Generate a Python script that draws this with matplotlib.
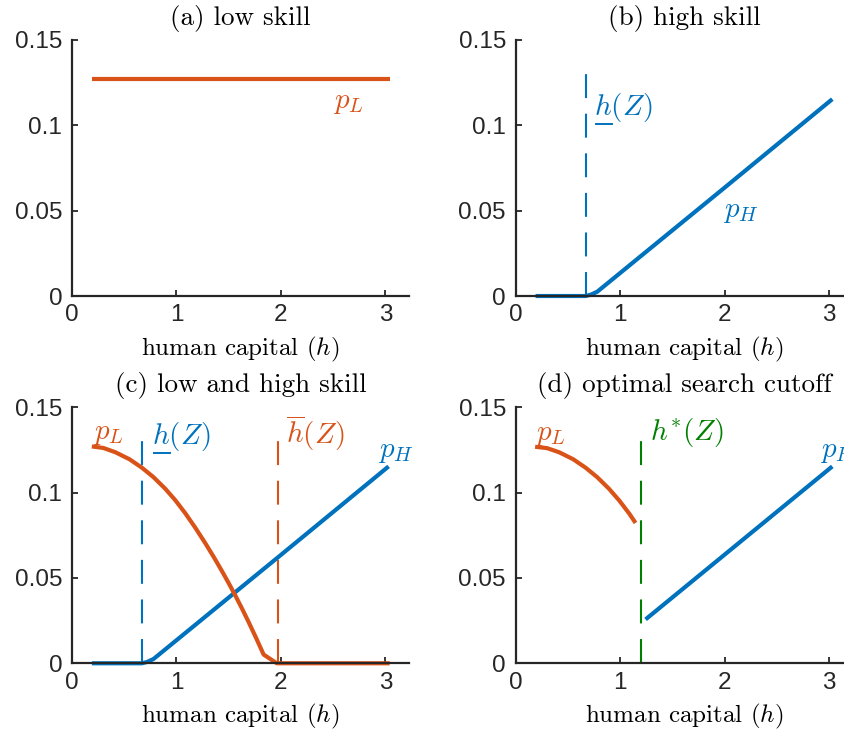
import matplotlib
matplotlib.use("Agg")
import matplotlib.pyplot as plt
from matplotlib.lines import Line2D

# values
h_flat = [0.19, 3.04]
pL_flat = [0.127, 0.127]

h_high = [0.19, 0.67, 0.72, 0.78, 1.0, 2.0, 3.03]
pH_high = [0.0, 0.0, 0.0008, 0.0025, 0.0135, 0.0635, 0.1153]

h_low = [0.19, 0.30, 0.415, 0.55, 0.67, 0.78, 0.893, 0.99, 1.085, 1.18, 1.276,
         1.36, 1.435, 1.50, 1.563, 1.63, 1.69, 1.76, 1.834, 1.96, 3.04]
pL_low = [0.127, 0.1261, 0.1236, 0.1195, 0.1145, 0.109, 0.1022, 0.0954, 0.0878,
          0.0794, 0.0703, 0.0619, 0.054, 0.0469, 0.0397, 0.0317, 0.0242, 0.0151,
          0.0051, 0.0, 0.0]

h_low_d = [0.186, 0.30, 0.415, 0.55, 0.67, 0.78, 0.893, 0.99, 1.085, 1.147]
pL_low_d = [0.1268, 0.1260, 0.1236, 0.1195, 0.1145, 0.109, 0.1022, 0.0954,
            0.0878, 0.0822]
h_high_d = [1.243, 3.03]
pH_high_d = [0.0257, 0.1153]

cut_low = 0.67
cut_high = 1.97
cut_star = 1.195
cut_top = 0.1335

titles = ['(a) low skill', '(b) high skill', '(c) low and high skill',
          '(d) optimal search cutoff']

blue = '#0072BD'
orange = '#D95319'
green = '#008000'
dark = '#262626'

plt.rcParams['mathtext.fontset'] = 'cm'

tick_fs = 17.5
lab_fs = 18
title_fs = 19.5
txt_fs = 21

fig = plt.figure(figsize=(8.45, 7.36), dpi=100)
w, hgt = 0.3994, 0.3480
ax_a = fig.add_axes([0.0852, 0.5978, w, hgt])
ax_b = fig.add_axes([0.6103, 0.5978, w, hgt])
ax_c = fig.add_axes([0.0852, 0.0988, w, hgt])
ax_d = fig.add_axes([0.6103, 0.0988, w, hgt])
axes = [ax_a, ax_b, ax_c, ax_d]

for ax, t in zip(axes, titles):
    ax.set_xlim(0, 3.23)
    ax.set_ylim(0, 0.15)
    ax.set_xticks([0, 1, 2, 3])
    ax.set_yticks([0, 0.05, 0.1, 0.15])
    ax.set_yticklabels(['0', '0.05', '0.1', '0.15'])
    for s in ['top', 'right']:
        ax.spines[s].set_visible(False)
    for s in ['left', 'bottom']:
        ax.spines[s].set_color(dark)
        ax.spines[s].set_linewidth(1.6)
    ax.tick_params(direction='in', length=4, width=1.3, color=dark,
                   labelcolor=dark, labelsize=tick_fs)
    ax.tick_params(axis='x', pad=6)
    ax.tick_params(axis='y', pad=7)
    for lb in ax.get_xticklabels() + ax.get_yticklabels():
        lb.set_fontfamily('Liberation Sans')
    ax.set_title(t, fontsize=title_fs, fontfamily='cmr10', pad=11)
    ax.set_xlabel('human capital ($h$)', fontsize=lab_fs, fontfamily='cmr10',
                  labelpad=6)
    ax.patch.set_visible(False)

lw = 3.0
kw = dict(solid_capstyle='butt', solid_joinstyle='round', clip_on=False)
dkw = dict(lw=1.5, dashes=(11.5, 7.5), clip_on=False)

pending = []


def under_label(ax, x, y, color):
    # h(Z) with a bar under the h
    ax.text(x, y, r'$h(Z)$', color=color, fontsize=txt_fs)
    probe = ax.text(x, y, r'$h$', color='none', fontsize=txt_fs)
    pending.append((probe, color))


# (a)
ax_a.plot(h_flat, pL_flat, color=orange, lw=lw, **kw)
ax_a.text(2.50, 0.110, r'$p_L$', color=orange, fontsize=txt_fs)

# (b)
ax_b.plot([cut_low, cut_low], [0, cut_top], color=blue, **dkw)
ax_b.plot(h_high, pH_high, color=blue, lw=lw, **kw)
under_label(ax_b, 0.746, 0.106, blue)
ax_b.text(1.987, 0.0465, r'$p_H$', color=blue, fontsize=txt_fs)

# (c)
ax_c.plot([cut_low, cut_low], [0, cut_top], color=blue, **dkw)
ax_c.plot([cut_high, cut_high], [0, cut_top], color=orange, **dkw)
ax_c.plot(h_high, pH_high, color=blue, lw=lw, **kw)
ax_c.plot(h_low, pL_low, color=orange, lw=lw, **kw)
ax_c.text(0.198, 0.1315, r'$p_L$', color=orange, fontsize=txt_fs)
under_label(ax_c, 0.765, 0.1286, blue)
ax_c.text(2.05, 0.1286, r'$\overline{h}(Z)$', color=orange, fontsize=txt_fs)
ax_c.text(2.925, 0.1207, r'$p_H$', color=blue, fontsize=txt_fs)

# (d)
ax_d.plot([cut_star, cut_star], [0, cut_top], color=green, **dkw)
ax_d.plot(h_low_d, pL_low_d, color=orange, lw=lw, **kw)
ax_d.plot(h_high_d, pH_high_d, color=blue, lw=lw, **kw)
ax_d.text(0.186, 0.1305, r'$p_L$', color=orange, fontsize=txt_fs)
ax_d.text(1.285, 0.1305, r'$h^{*}(Z)$', color=green, fontsize=txt_fs)
ax_d.text(2.91, 0.1207, r'$p_H$', color=blue, fontsize=txt_fs)

fig.canvas.draw()
inv = fig.transFigure.inverted()
for probe, color in pending:
    bb = probe.get_window_extent()
    x0, y0 = inv.transform((bb.x0 + 2, bb.y0 - 3))
    x1, _ = inv.transform((bb.x1, bb.y0 - 3))
    probe.remove()
    fig.add_artist(Line2D([x0, x1], [y0, y0], color=color, lw=1.4,
                          transform=fig.transFigure))

fig.savefig('out.png', dpi=100)
